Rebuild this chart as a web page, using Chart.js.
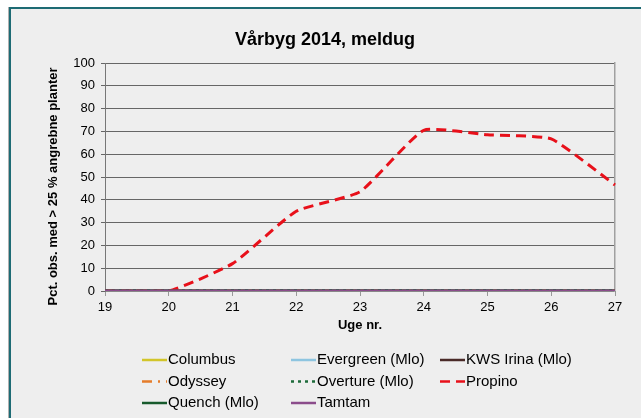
<!DOCTYPE html>
<html>
<head>
<meta charset="utf-8">
<script src="https://cdn.jsdelivr.net/npm/chart.js@4.4.0/dist/chart.umd.min.js"></script>
<style>
  html, body { margin: 0; padding: 0; background: #fff; }
  #wrap { width: 641px; height: 418px; }
</style>
</head>
<body>
<div id="wrap"><canvas id="chart" width="641" height="418"></canvas></div>
<script>
// Vårbyg 2014, meldug — pct. observations with > 25 % attacked plants per week

const weeks = ["19", "20", "21", "22", "23", "24", "25", "26", "27"];
const yTicks = [0, 10, 20, 30, 40, 50, 60, 70, 80, 90, 100];

const columbus  = [0, 0, 0, 0, 0, 0, 0, 0, 0];
const evergreen = [0, 0, 0, 0, 0, 0, 0, 0, 0];
const kwsIrina  = [0, 0, 0, 0, 0, 0, 0, 0, 0];
const odyssey   = [0, 0, 0, 0, 0, 0, 0, 0, 0];
const overture  = [0, 0, 0, 0, 0, 0, 0, 0, 0];
const propino   = [0, 0, 12, 35, 43.5, 70.5, 68.5, 66.7, 46.5];
const quench    = [0, 0, 0, 0, 0, 0, 0, 0, 0];
const tamtam    = [0, 0, 0, 0, 0, 0, 0, 0, 0];

const FONT = "'Liberation Sans', Arial, sans-serif";

const series = [
  { label: "Columbus",        data: columbus,  color: "#d2c52a", dash: [],           width: 3 },
  { label: "Evergreen (Mlo)", data: evergreen, color: "#8ec5e0", dash: [],           width: 3 },
  { label: "KWS Irina (Mlo)", data: kwsIrina,  color: "#4a2a28", dash: [],           width: 3 },
  { label: "Odyssey",         data: odyssey,   color: "#e57c2a", dash: [10, 6, 2, 6], width: 3 },
  { label: "Overture (Mlo)",  data: overture,  color: "#1d6b3a", dash: [3, 4],       width: 4 },
  { label: "Propino",         data: propino,   color: "#e8101a", dash: [10, 6],      width: 3 },
  { label: "Quench (Mlo)",    data: quench,    color: "#175a2c", dash: [],           width: 3 },
  { label: "Tamtam",          data: tamtam,    color: "#8b4c8b", dash: [],           width: 3 },
];

// grey panel with the teal frame, white margin outside
const framePlugin = {
  id: "frame",
  beforeDraw(chart) {
    const { ctx, width, height } = chart;
    ctx.save();
    ctx.fillStyle = "#ffffff";
    ctx.fillRect(0, 0, width, height);
    ctx.fillStyle = "#eeeeee";
    ctx.fillRect(10, 8, width - 10, height - 8);
    ctx.strokeStyle = "#b0b0b0";
    ctx.lineWidth = 1;
    ctx.beginPath();
    ctx.moveTo(8.5, height);
    ctx.lineTo(8.5, 7);
    ctx.stroke();
    ctx.strokeStyle = "#1d6b74";
    ctx.lineWidth = 2;
    ctx.beginPath();
    ctx.moveTo(10, height);
    ctx.lineTo(10, 8);
    ctx.lineTo(width, 8);
    ctx.stroke();
    ctx.restore();
  },
};

// title, y title and a three-column legend like the Excel original
const decorPlugin = {
  id: "decor",
  afterDraw(chart) {
    const { ctx } = chart;
    ctx.save();
    ctx.fillStyle = "#000";
    ctx.textAlign = "center";
    ctx.textBaseline = "middle";
    ctx.font = "bold 18px " + FONT;
    ctx.fillText("Vårbyg 2014, meldug", 325, 40);

    ctx.save();
    ctx.translate(53, 186.5);
    ctx.rotate(-Math.PI / 2);
    ctx.font = "bold 13px " + FONT;
    ctx.fillText("Pct. obs. med > 25 % angrebne planter", 0, 0);
    ctx.restore();

    const cols = [142, 291, 440];
    const rows = [360, 381.5, 403];
    ctx.font = "15px " + FONT;
    ctx.textAlign = "left";
    chart.data.datasets.forEach((ds, i) => {
      const x = cols[i % 3];
      const y = rows[Math.floor(i / 3)];
      ctx.strokeStyle = ds.borderColor;
      ctx.lineWidth = 2.5;
      ctx.setLineDash(ds.borderDash || []);
      ctx.beginPath();
      ctx.moveTo(x, y);
      ctx.lineTo(x + 25, y);
      ctx.stroke();
      ctx.setLineDash([]);
      ctx.fillStyle = "#000";
      ctx.fillText(ds.label, x + 26, y);
    });
    ctx.restore();
  },
};

const datasets = series.map((s, i) => ({
  label: s.label,
  data: s.data,
  borderColor: s.color,
  backgroundColor: s.color,
  borderWidth: s.width,
  borderDash: s.dash,
  pointRadius: 0,
  fill: false,
  tension: 0.15,
  order: series.length - i, // later series on top, as in Excel
}));

new Chart(document.getElementById("chart"), {
  type: "line",
  data: { labels: weeks, datasets },
  options: {
    responsive: false,
    animation: false,
    devicePixelRatio: 1,
    layout: { padding: { left: 0, right: 26, top: 63, bottom: 85 } },
    plugins: {
      legend: { display: false },
      title: { display: false },
      tooltip: { enabled: false },
    },
    scales: {
      x: {
        grid: { drawOnChartArea: false, drawTicks: true, tickLength: 5, color: "#999" },
        border: { color: "#888" },
        ticks: { color: "#000", font: { family: FONT, size: 13 }, padding: 4, maxRotation: 0 },
        title: {
          display: true,
          text: "Uge nr.",
          color: "#000",
          font: { family: FONT, size: 13, weight: "bold" },
          padding: { top: 0, bottom: 0 },
        },
        afterFit(scale) { scale.height = 42; },
      },
      y: {
        min: yTicks[0],
        max: yTicks[yTicks.length - 1],
        afterBuildTicks(scale) { scale.ticks = yTicks.map(v => ({ value: v })); },
        grid: { color: "#666", lineWidth: 1, tickLength: 4 },
        border: { color: "#777" },
        ticks: { color: "#000", font: { family: FONT, size: 13 }, padding: 6 },
        afterFit(scale) { scale.width = 105; },
      },
      yr: {
        position: "right",
        min: 0,
        max: 100,
        ticks: { display: false },
        grid: { drawOnChartArea: false, drawTicks: false },
        border: { display: true, color: "#a0a0a0", width: 1.5 },
        afterFit(scale) { scale.width = 0; },
      },
    },
  },
  plugins: [framePlugin, decorPlugin],
});
</script>
</body>
</html>
